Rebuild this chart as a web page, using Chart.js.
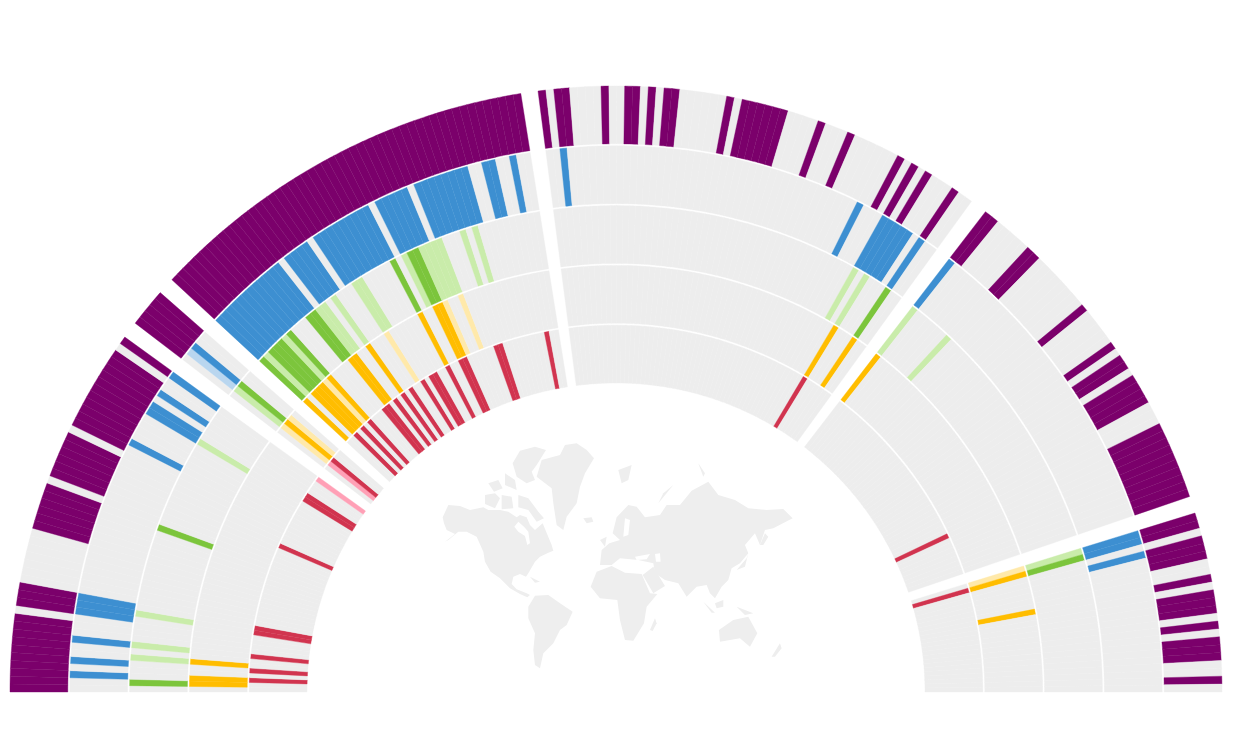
<!DOCTYPE html>
<html>
<head>
<meta charset="utf-8">
<title>Radial heatmap</title>
<script src="https://cdn.jsdelivr.net/npm/chart.js@4"></script>
<style>
  html, body { margin: 0; padding: 0; background: #fff; }
  #wrap { position: relative; width: 1240px; height: 744px; overflow: hidden; }
  #map, #myChart { position: absolute; left: 0; top: 0; }
</style>
</head>
<body>
<div id="wrap">
  <svg id="map" width="1240" height="744" viewBox="0 0 1240 744">
    <g transform="translate(420 430) scale(0.3333)" fill="#eeeeee">
      <path d="M68,262 L85,225 L120,228 L150,240 L190,232 L205,240 L240,240 L265,245 L290,262 L300,255 L320,262 L330,285 L345,300 L368,280 L395,345 L400,362 L385,368 L360,380 L345,395 L325,430 L318,440 L300,432 L280,440 L275,462 L290,478 L320,490 L330,495 L322,502 L300,492 L270,475 L240,445 L212,425 L195,395 L190,365 L170,320 L140,305 L115,305 L85,330 L75,335 L105,312 L80,300 L72,280 Z"/>
      <path d="M283,290 L295,275 L312,290 L325,305 L330,340 L322,345 L315,318 L295,305 Z" fill="#fff"/>
      <path d="M195,195 L225,190 L240,205 L225,235 L195,222 Z"/>
      <path d="M245,195 L275,200 L280,235 L245,238 Z"/>
      <path d="M295,195 L325,205 L355,245 L372,265 L350,275 L325,240 L295,232 Z"/>
      <path d="M205,160 L235,150 L248,175 L222,185 Z"/>
      <path d="M255,130 L285,150 L290,180 L255,165 Z"/>
      <path d="M278,100 L300,62 L345,50 L378,60 L350,105 L335,125 L345,150 L320,160 L290,140 Z"/>
      <path d="M350,140 L365,90 L420,75 L435,45 L470,40 L500,60 L522,85 L495,130 L480,170 L470,220 L440,260 L430,300 L410,285 L400,220 L395,175 Z"/>
      <path d="M490,265 L515,262 L520,275 L500,280 Z"/>
      <path d="M330,440 L360,455 L345,458 Z"/>
      <path d="M325,530 L345,497 L385,495 L420,520 L458,545 L440,585 L420,600 L400,640 L370,670 L360,715 L345,705 L340,660 L345,610 L325,565 Z"/>
      <path d="M578,310 L590,262 L625,225 L650,230 L675,262 L720,255 L740,225 L780,225 L815,182 L865,155 L895,195 L945,210 L985,235 L1040,240 L1090,237 L1118,265 L1060,295 L1035,300 L1020,345 L1005,310 L975,345 L985,370 L960,400 L935,415 L925,450 L905,470 L885,505 L870,490 L860,465 L830,470 L800,500 L775,460 L735,450 L705,430 L700,400 L655,390 L600,385 L575,405 L540,405 L545,360 L568,340 L600,330 Z"/>
      <path d="M615,265 L630,270 L625,315 L610,320 Z" fill="#fff"/>
      <path d="M645,380 L690,372 L680,388 L650,390 Z" fill="#fff"/>
      <path d="M705,372 L720,370 L722,395 L708,395 Z" fill="#fff"/>
      <path d="M512,470 L530,425 L575,408 L615,428 L665,432 L690,490 L712,492 L680,530 L672,580 L640,632 L615,630 L600,570 L592,510 L540,505 Z"/>
      <path d="M668,435 L700,410 L735,468 L700,490 Z"/>
      <path d="M540,330 L560,320 L555,350 Z"/>
      <path d="M1020,345 L1035,310 L1045,320 L1030,345 Z"/>
      <path d="M950,420 L980,385 L985,370 L975,410 Z"/>
      <path d="M690,600 L705,565 L710,580 L698,603 Z"/>
      <path d="M897,600 L940,570 L985,560 L1012,610 L990,650 L960,625 L900,635 Z"/>
      <path d="M1055,680 L1080,640 L1085,655 L1065,680 Z"/>
      <path d="M885,520 L910,510 L910,530 L890,535 Z"/>
      <path d="M850,515 L885,548 L875,548 Z"/>
      <path d="M950,530 L1000,550 L975,555 Z"/>
      <path d="M715,220 L760,165 L730,190 Z"/>
      <path d="M595,120 L635,105 L625,150 L605,160 Z"/>
      <path d="M835,100 L855,130 L850,140 Z"/>
    </g>
  </svg>
  <canvas id="myChart" width="1240" height="744"></canvas>
</div>
<script>
// cells in each of the six groups, left to right
const sectorSizes = [48, 5, 51, 58, 45, 23];
const sectorGap = 2.2;

// runs are [sector, first cell, end cell, level], level 2 = solid, 1 = pale
const purpleRuns = [
    [0,0,10,2],[0,11,14,2],[0,21,27,2],[0,28,34,2],[0,35,46,2],[0,47,48,2],
    [1,0,5,2],
    [2,0,51,2],
    [3,0,1,2],[3,2,4,2],[3,8,9,2],[3,11,13,2],[3,14,15,2],[3,16,18,2],[3,24,25,2],[3,26,32,2],
    [3,36,37,2],[3,40,41,2],[3,47,48,2],[3,49,50,2],[3,51,52,2],[3,55,56,2],
    [4,0,2,2],[4,7,9,2],[4,17,18,2],[4,23,24,2],[4,25,27,2],[4,28,32,2],[4,35,45,2],
    [5,0,2,2],[5,3,6,2],[5,8,9,2],[5,10,13,2],[5,14,15,2],[5,16,19,2],[5,21,22,2]
];
const blueRuns = [
    [0,2,3,2],[0,4,5,2],[0,7,8,2],[0,11,14,2],[0,36,37,2],[0,41,43,2],[0,44,45,2],[0,47,48,2],
    [1,1,2,1],[1,2,3,2],
    [2,0,12,2],[2,13,17,2],[2,18,27,2],[2,28,33,2],[2,34,42,2],[2,44,46,2],[2,48,49,2],
    [3,2,3,2],[3,45,46,2],[3,49,54,2],[3,55,56,2],
    [4,0,1,2],
    [5,0,2,2],[5,3,4,2]
];
const greenRuns = [
    [0,1,2,2],[0,5,6,1],[0,7,8,1],[0,12,13,1],[0,26,27,2],[0,41,42,1],
    [1,1,2,1],[1,2,3,2],
    [2,0,1,2],[2,1,2,1],[2,2,5,2],[2,5,6,1],[2,6,7,2],[2,10,12,2],[2,12,14,1],[2,15,16,1],[2,19,21,1],
    [2,26,27,2],[2,28,29,1],[2,29,31,2],[2,31,35,1],[2,38,39,1],[2,40,41,1],
    [3,49,50,1],[3,51,52,1],[3,55,56,2],
    [4,0,1,1],[4,7,8,1],
    [5,0,1,1],[5,1,2,2]
];
const yellowRuns = [
    [0,1,3,2],[0,5,6,2],
    [1,1,2,1],[1,2,3,2],[1,3,4,1],
    [2,0,1,2],[2,2,5,2],[2,5,6,1],[2,6,7,2],[2,11,13,2],[2,15,16,2],[2,19,20,1],[2,26,27,2],
    [2,29,31,2],[2,31,32,1],[2,34,35,1],
    [3,51,52,2],[3,55,56,2],
    [4,0,1,2],
    [5,0,1,1],[5,1,2,2],[5,8,9,2]
];
const redRuns = [
    [0,2,3,2],[0,4,5,2],[0,7,8,2],[0,12,14,2],[0,31,32,2],[0,42,44,2],[0,47,48,1],
    [1,1,2,1],[1,2,3,2],
    [2,2,3,2],[2,4,5,2],[2,6,7,2],[2,10,12,2],[2,13,14,2],[2,15,16,2],[2,17,18,2],[2,20,21,2],
    [2,22,24,2],[2,26,27,2],[2,29,31,2],[2,37,39,2],[2,48,49,2],
    [3,51,52,2],
    [4,36,37,2],
    [5,1,2,2]
];

const emptyColor = '#ededed';

function buildRing(runs, solid, pale) {
    const values = [], colors = [];
    sectorSizes.forEach((size, s) => {
        for (let i = 0; i < size; i++) {
            const run = runs.find(r => r[0] === s && i >= r[1] && i < r[2]);
            values.push(1);
            colors.push(run ? (run[3] === 2 ? solid : pale) : emptyColor);
        }
        if (s < sectorSizes.length - 1) {
            values.push(sectorGap);
            colors.push('rgba(0,0,0,0)');
        }
    });
    // a hair of border in the cell's own colour keeps the seams between cells faint
    return { data: values, backgroundColor: colors, borderColor: colors, borderWidth: 0.4, weight: 57.4 };
}

// thin empty ring that makes the white line between two rings
const spacer = () => ({ data: [1], backgroundColor: 'rgba(0,0,0,0)', borderWidth: 0, weight: 1.95 });

const ctx = document.getElementById('myChart').getContext('2d');
const myChart = new Chart(ctx, {
    type: 'doughnut',
    data: {
        // first dataset is the outer ring
        datasets: [
            buildRing(purpleRuns, '#7b006b', '#c080b5'),
            spacer(),
            buildRing(blueRuns, '#3d8fd1', '#b9d6ef'),
            spacer(),
            buildRing(greenRuns, '#7cc53c', '#c9ecaa'),
            spacer(),
            buildRing(yellowRuns, '#ffbd00', '#ffe9aa'),
            spacer(),
            buildRing(redRuns, '#d1344f', '#ffa0b6')
        ]
    },
    options: {
        responsive: false,
        animation: false,
        events: [],
        rotation: -90,
        circumference: 180,
        cutout: '50.99%',
        radius: 606,
        hoverOffset: 0,
        layout: { padding: { left: 10, right: 18, top: 86, bottom: 52 } },
        plugins: { legend: { display: false }, tooltip: { enabled: false } }
    }
});
</script>
</body>
</html>
